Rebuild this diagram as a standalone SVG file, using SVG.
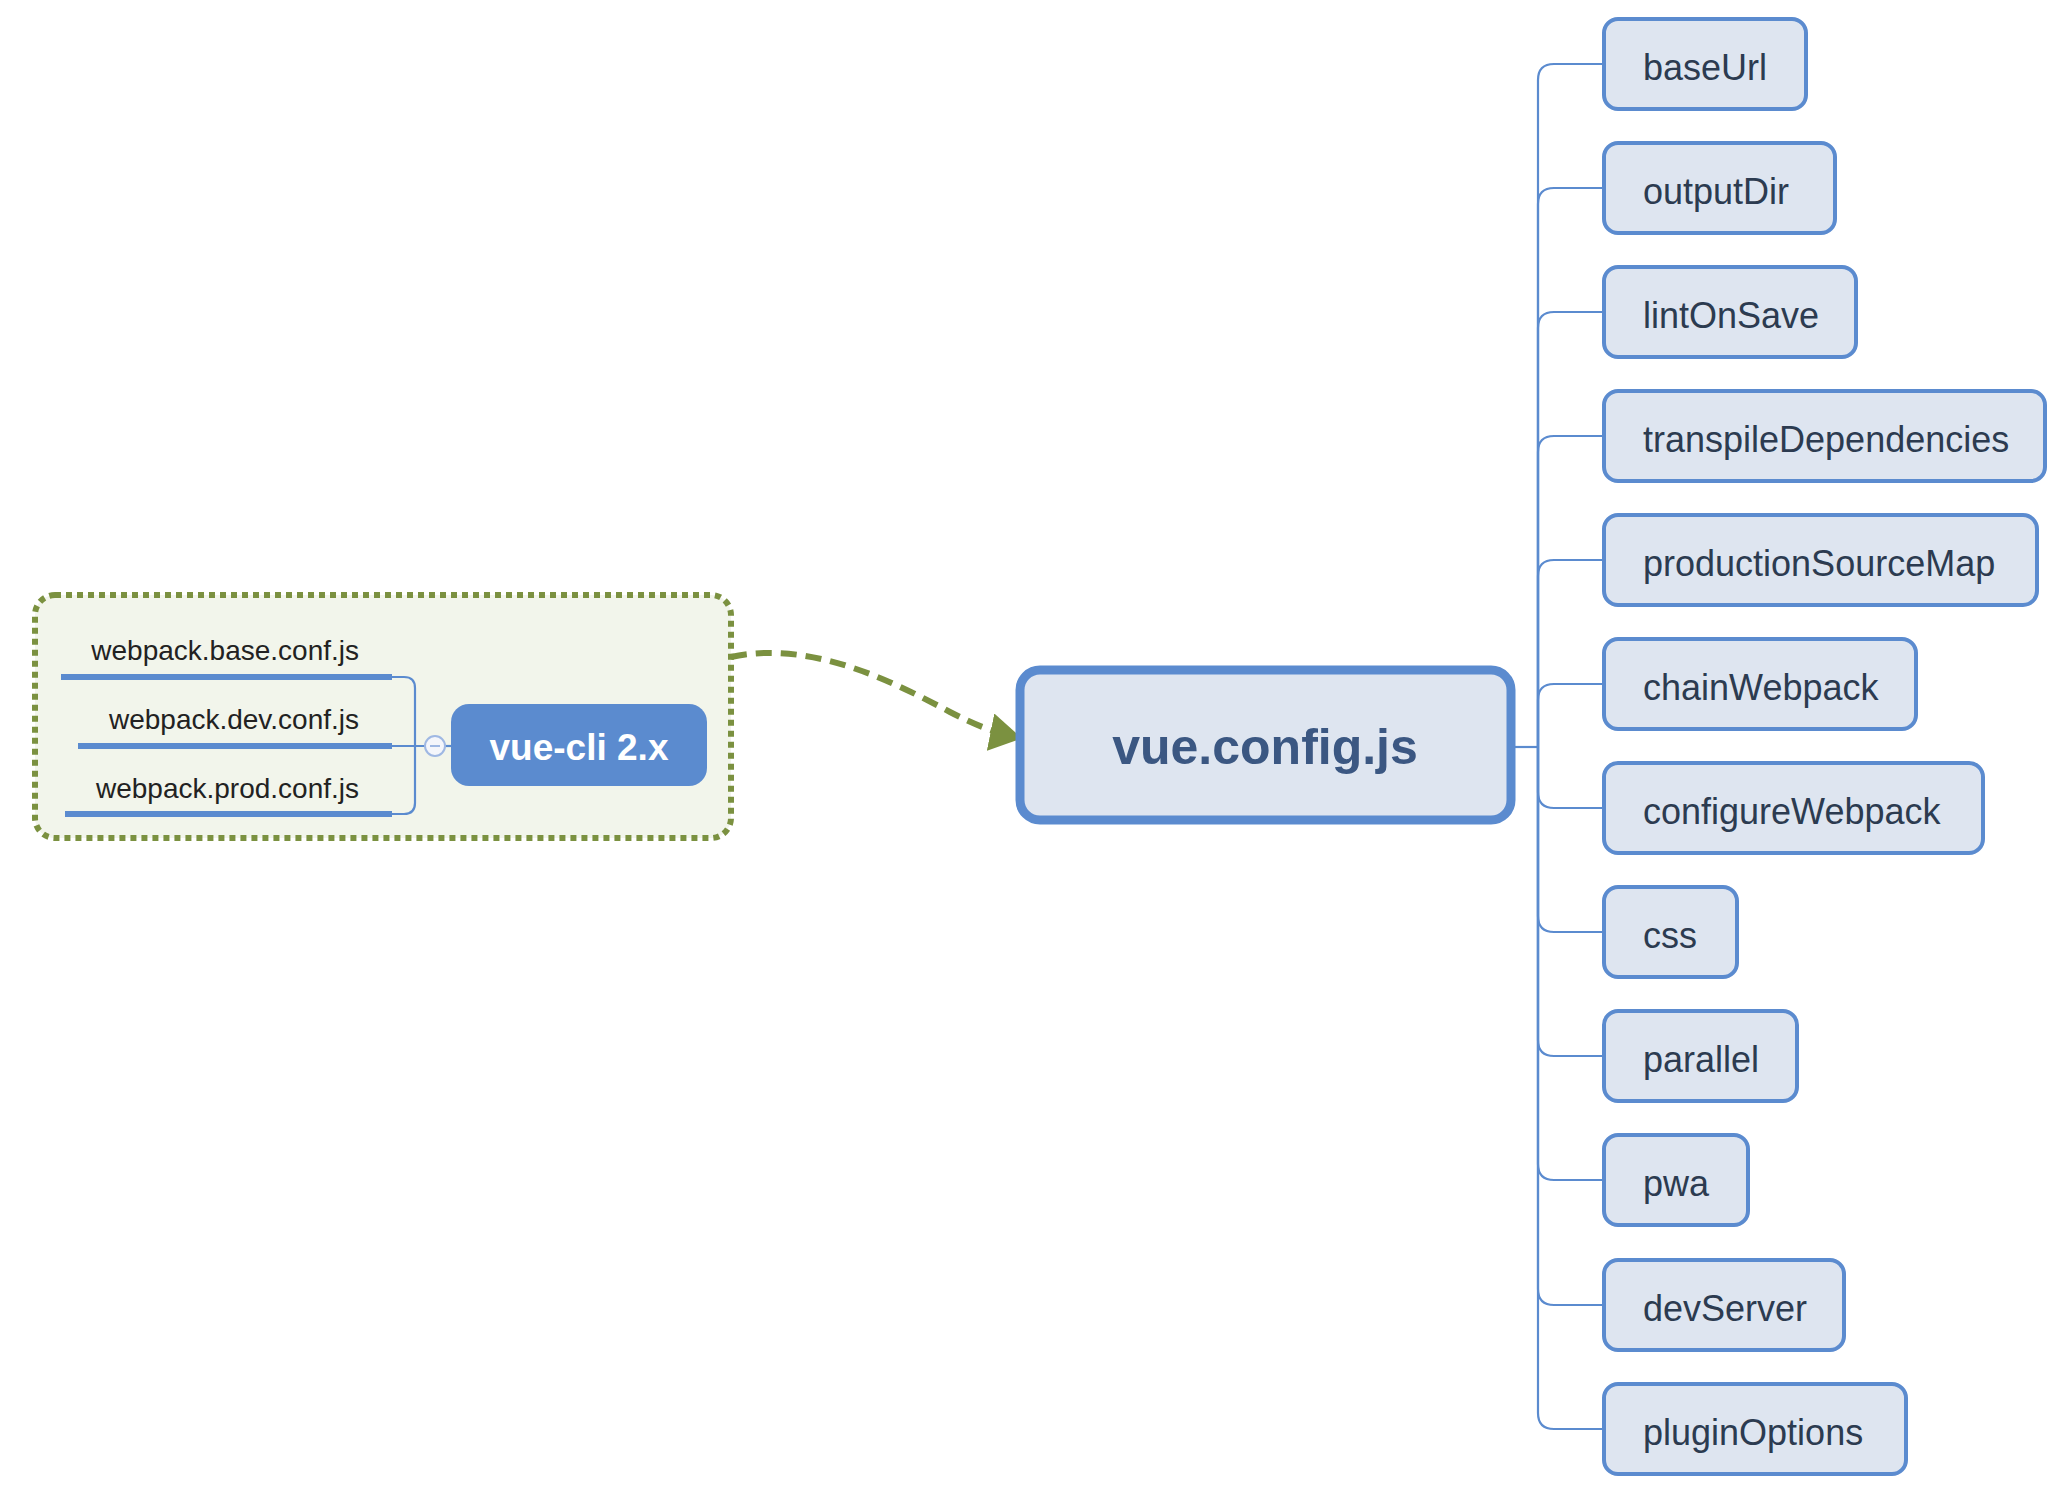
<svg xmlns="http://www.w3.org/2000/svg" width="2048" height="1498" viewBox="0 0 2048 1498">
  <defs>
    <style>
      .leaf rect { fill: #dee5f0; stroke: #5b8bcf; stroke-width: 4; }
      .leaf text { font-family: "Liberation Sans", Arial, sans-serif; font-size: 36px; fill: #2c3b50; }
      .branch { fill: none; stroke: #5b8bcf; stroke-width: 2.2; }
      .file text { font-family: "Liberation Sans", Arial, sans-serif; font-size: 28px; fill: #222; text-anchor: end; }
      .bar { stroke: #5b8bcf; stroke-width: 6; }
    </style>
    <marker id="arrowGreen" viewBox="0 0 32 38" refX="30" refY="19" markerWidth="32" markerHeight="38" orient="auto" markerUnits="userSpaceOnUse">
      <path d="M0,0 L32,19 L0,38 z" fill="#7b9140"/>
    </marker>
  </defs>

  <rect width="2048" height="1498" fill="#ffffff"/>

  <!-- vue-cli 2.x grouping -->
  <g id="group-vue-cli2">
    <rect x="35" y="595" width="696" height="243" rx="20" fill="#f2f5eb" stroke="#7b9140" stroke-width="6" stroke-dasharray="6 5"/>
  </g>

  <g id="connectors">
    <!-- bracket joining the webpack files -->
    <path class="branch" d="M392 677 H404 Q415 677 415 688 V803 Q415 814 404 814 H392"/>
    <path class="branch" d="M392 746 H425"/>
    <path class="branch" d="M445 746 H452"/>
    <!-- migration arrow -->
    <path d="M731 657 C810 640 890 680 950 712 C975 725 995 733 1020 738" fill="none" stroke="#7b9140" stroke-width="6" stroke-dasharray="16 9" marker-end="url(#arrowGreen)"/>
    <!-- option branches -->
    <path class="branch" d="M1515 747 H1538"/>
    <path class="branch" d="M1538 747 V80 Q1538 64 1554 64 H1604"/>
    <path class="branch" d="M1538 747 V204 Q1538 188 1554 188 H1604"/>
    <path class="branch" d="M1538 747 V328 Q1538 312 1554 312 H1604"/>
    <path class="branch" d="M1538 747 V452 Q1538 436 1554 436 H1604"/>
    <path class="branch" d="M1538 747 V576 Q1538 560 1554 560 H1604"/>
    <path class="branch" d="M1538 747 V700 Q1538 684 1554 684 H1604"/>
    <path class="branch" d="M1538 747 V792 Q1538 808 1554 808 H1604"/>
    <path class="branch" d="M1538 747 V916 Q1538 932 1554 932 H1604"/>
    <path class="branch" d="M1538 747 V1040 Q1538 1056 1554 1056 H1604"/>
    <path class="branch" d="M1538 747 V1164 Q1538 1180 1554 1180 H1604"/>
    <path class="branch" d="M1538 747 V1289 Q1538 1305 1554 1305 H1604"/>
    <path class="branch" d="M1538 747 V1413 Q1538 1429 1554 1429 H1604"/>
  </g>

  <!-- webpack config files -->
  <g id="file-base" class="file">
    <text x="359" y="660">webpack.base.conf.js</text>
    <line class="bar" x1="61" y1="677" x2="392" y2="677"/>
  </g>
  <g id="file-dev" class="file">
    <text x="359" y="729">webpack.dev.conf.js</text>
    <line class="bar" x1="78" y1="746" x2="392" y2="746"/>
  </g>
  <g id="file-prod" class="file">
    <text x="359" y="798">webpack.prod.conf.js</text>
    <line class="bar" x1="65" y1="814" x2="392" y2="814"/>
  </g>

  <!-- collapse toggle -->
  <g id="toggle">
    <circle cx="435" cy="746" r="10" fill="#f4f6fb" stroke="#9fb8e3" stroke-width="2"/>
    <line x1="430" y1="746" x2="440" y2="746" stroke="#9fb8e3" stroke-width="2"/>
  </g>

  <g id="vue-cli2">
    <rect x="451" y="704" width="256" height="82" rx="18" fill="#5b8bcf"/>
    <text x="579" y="760" text-anchor="middle" font-family="Liberation Sans, Arial, sans-serif" font-size="37" font-weight="bold" fill="#ffffff">vue-cli 2.x</text>
  </g>

  <g id="vue-config">
    <rect x="1020" y="670" width="491" height="150" rx="20" fill="#dee5f0" stroke="#5b8bcf" stroke-width="9"/>
    <text x="1265" y="764" text-anchor="middle" font-family="Liberation Sans, Arial, sans-serif" font-size="50" font-weight="bold" fill="#3b5782">vue.config.js</text>
  </g>

  <!-- config options -->
  <g id="opt-baseUrl" class="leaf"><rect x="1604" y="19" width="202" height="90" rx="14"/><text x="1643" y="80">baseUrl</text></g>
  <g id="opt-outputDir" class="leaf"><rect x="1604" y="143" width="231" height="90" rx="14"/><text x="1643" y="204">outputDir</text></g>
  <g id="opt-lintOnSave" class="leaf"><rect x="1604" y="267" width="252" height="90" rx="14"/><text x="1643" y="328">lintOnSave</text></g>
  <g id="opt-transpileDependencies" class="leaf"><rect x="1604" y="391" width="441" height="90" rx="14"/><text x="1643" y="452">transpileDependencies</text></g>
  <g id="opt-productionSourceMap" class="leaf"><rect x="1604" y="515" width="433" height="90" rx="14"/><text x="1643" y="576">productionSourceMap</text></g>
  <g id="opt-chainWebpack" class="leaf"><rect x="1604" y="639" width="312" height="90" rx="14"/><text x="1643" y="700">chainWebpack</text></g>
  <g id="opt-configureWebpack" class="leaf"><rect x="1604" y="763" width="379" height="90" rx="14"/><text x="1643" y="824">configureWebpack</text></g>
  <g id="opt-css" class="leaf"><rect x="1604" y="887" width="133" height="90" rx="14"/><text x="1643" y="948">css</text></g>
  <g id="opt-parallel" class="leaf"><rect x="1604" y="1011" width="193" height="90" rx="14"/><text x="1643" y="1072">parallel</text></g>
  <g id="opt-pwa" class="leaf"><rect x="1604" y="1135" width="144" height="90" rx="14"/><text x="1643" y="1196">pwa</text></g>
  <g id="opt-devServer" class="leaf"><rect x="1604" y="1260" width="240" height="90" rx="14"/><text x="1643" y="1321">devServer</text></g>
  <g id="opt-pluginOptions" class="leaf"><rect x="1604" y="1384" width="302" height="90" rx="14"/><text x="1643" y="1445">pluginOptions</text></g>
</svg>
